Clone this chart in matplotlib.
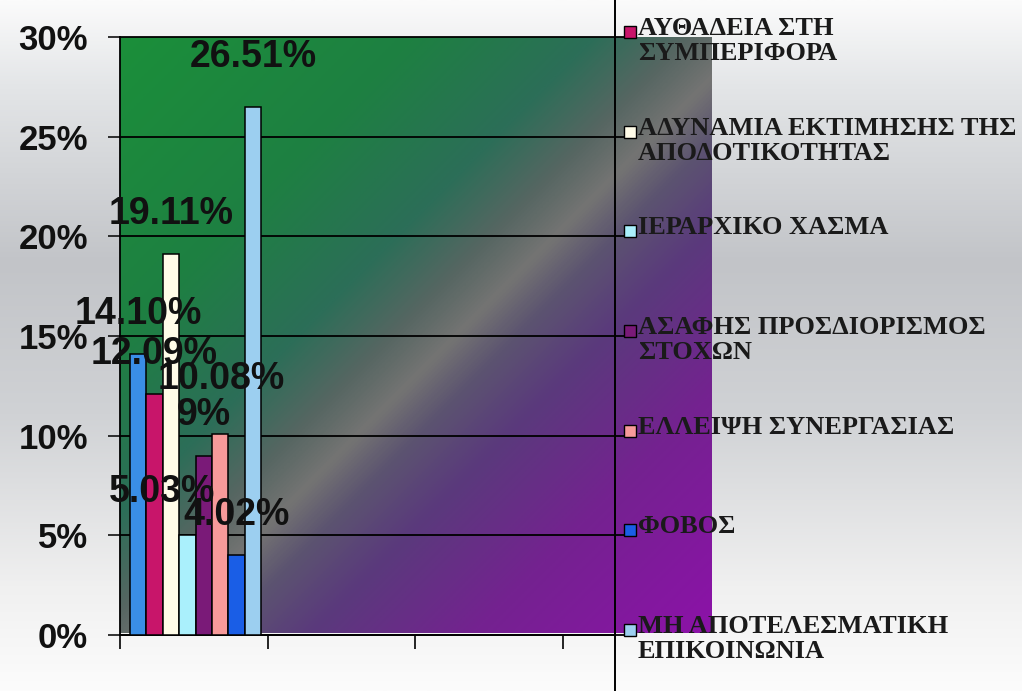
import numpy as np
import matplotlib
matplotlib.use("Agg")
import matplotlib.pyplot as plt
from matplotlib import transforms
from matplotlib.colors import LinearSegmentedColormap
from matplotlib.lines import Line2D

# percentages per cause (first bar has no legend entry shown)
values = [14.10, 12.09, 19.11, 5.03, 9.00, 10.08, 4.02, 26.51]
value_labels = ["14.10%", "12.09%", "19.11%", "5.03%", "9%", "10.08%", "4.02%", "26.51%"]
bar_colors = ["#3a8ee6", "#c8156a", "#fffce8", "#aaf0fc", "#7a1a78",
              "#f79a9a", "#1a5ee6", "#9ccff0"]
legend_labels = [
    "ΑΥΘΑΔΕΙΑ ΣΤΗ\nΣΥΜΠΕΡΙΦΟΡΑ",
    "ΑΔΥΝΑΜΙΑ ΕΚΤΙΜΗΣΗΣ ΤΗΣ\nΑΠΟΔΟΤΙΚΟΤΗΤΑΣ",
    "ΙΕΡΑΡΧΙΚΟ ΧΑΣΜΑ",
    "ΑΣΑΦΗΣ ΠΡΟΣΔΙΟΡΙΣΜΟΣ\nΣΤΟΧΩΝ",
    "ΕΛΛΕΙΨΗ ΣΥΝΕΡΓΑΣΙΑΣ",
    "ΦΟΒΟΣ",
    "ΜΗ ΑΠΟΤΕΛΕΣΜΑΤΙΚΗ\nΕΠΙΚΟΙΝΩΝΙΑ",
]
y_ticks = [0, 5, 10, 15, 20, 25, 30]
y_tick_labels = ["0%", "5%", "10%", "15%", "20%", "25%", "30%"]

# label nudges in points (some labels were dragged by hand)
label_nudges = [(0, 0), (0, 0), (0, 0), (-18, 2), (0, 0), (1, 11), (0, 0), (0, 7)]

W, H = 1022, 691
fig = plt.figure(figsize=(W / 100, H / 100), dpi=100)

# slide background: white -> grey -> white from top to bottom
bg = fig.add_axes([0, 0, 1, 1])
bg.axis("off")
bg_cmap = LinearSegmentedColormap.from_list(
    "slide", [(0.0, "#fbfbfb"), (0.12, "#e4e6e8"), (0.38, "#c2c4c8"),
              (0.6, "#d0d2d5"), (0.85, "#f0f0f0"), (1.0, "#fcfcfc")])
bg.imshow(np.linspace(0, 1, 256)[:, None], aspect="auto", cmap=bg_cmap,
          extent=[0, 1, 0, 1])

# plot-area fill: diagonal green -> grey -> purple
fill_left, fill_right = 120 / W, 712 / W
fill_bottom, fill_top = (H - 633) / H, (H - 37) / H
fa = fig.add_axes([fill_left, fill_bottom, fill_right - fill_left, fill_top - fill_bottom])
fa.axis("off")
u, v = np.meshgrid(np.linspace(0, 1, 400), np.linspace(0, 1, 400))
t = (u + v) / 2
fill_cmap = LinearSegmentedColormap.from_list(
    "area", [(0.0, "#1b8f3a"), (0.25, "#1e8042"), (0.4, "#2c6e58"),
             (0.48, "#566662"), (0.535, "#747473"), (0.585, "#5c5470"),
             (0.66, "#5a3a7c"), (0.8, "#742290"), (1.0, "#8c12a8")])
fa.imshow(t, aspect="auto", cmap=fill_cmap, extent=[0, 1, 0, 1], origin="upper")

# main axes
ax = fig.add_axes([120 / W, (H - 635) / H, 495 / W, 598 / H])
ax.set_facecolor("none")

n = len(values)
bar_w = 0.111
start = 0.068
xs = start + bar_w * (np.arange(n) + 0.5)
ax.bar(xs, values, width=bar_w, color=bar_colors, edgecolor="black",
       linewidth=1.1, zorder=3)

for x, val, txt, (dx, dy) in zip(xs, values, value_labels, label_nudges):
    ax.annotate(txt, xy=(x, val), xytext=(dx, 29 + dy), textcoords="offset points",
                ha="center", va="center", fontsize=27, fontweight="bold",
                family="Liberation Sans", color="#111111", zorder=5)

ax.set_xlim(0, 495 / 147.5)
ax.set_ylim(0, 30)
ax.set_xticks([0, 1, 2, 3])
ax.set_xticklabels([])
ax.set_yticks(y_ticks)
ax.set_yticklabels(y_tick_labels, fontsize=25, fontweight="bold",
                   family="Liberation Sans", color="#111111")
ax.tick_params(axis="y", length=9, width=1.2, pad=14, colors="#111111")
ax.tick_params(axis="x", length=10, width=1.2)

for yt in y_ticks:
    ax.axhline(yt, xmin=0, xmax=1.02, color="black", lw=1.3, clip_on=False, zorder=2)

for side in ["top", "right"]:
    ax.spines[side].set_visible(False)
for side in ["left", "bottom"]:
    ax.spines[side].set_linewidth(1.3)

# separator line between plot and legend
fig.add_artist(Line2D([615 / W, 615 / W], [0, 1], color="black", lw=1.4))

# legend: one entry per gridline, from the top down
blend = transforms.blended_transform_factory(fig.transFigure, ax.transData)
for i, (label, color) in enumerate(zip(legend_labels, bar_colors[1:])):
    y = y_ticks[::-1][i]
    mark_tr = transforms.offset_copy(blend, fig=fig, x=0, y=5, units="dots")
    fig.add_artist(Line2D([630 / W], [y], marker="s", markersize=8,
                          markerfacecolor=color, markeredgecolor="black",
                          markeredgewidth=1.0, linestyle="none", transform=mark_tr))
    text_tr = transforms.offset_copy(blend, fig=fig, x=0, y=20, units="dots")
    fig.text(638 / W, y, label, transform=text_tr, ha="left", va="top",
             fontsize=19, fontweight="bold", family="Liberation Serif",
             color="#1a1a1a", linespacing=1.12)

fig.savefig("out.png", dpi=100)
